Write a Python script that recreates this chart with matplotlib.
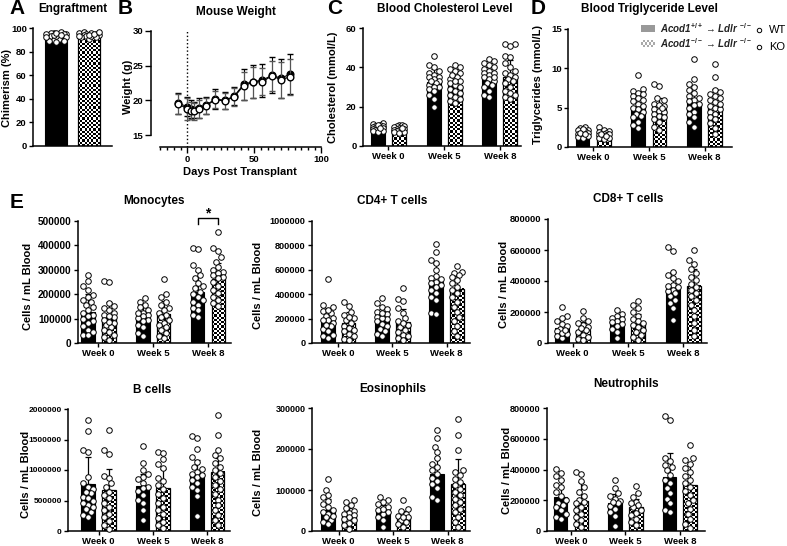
import numpy as np
import matplotlib
matplotlib.use('Agg')
import matplotlib.pyplot as plt
from matplotlib.colors import ListedColormap
from matplotlib.patches import Rectangle

plt.rcParams['font.family'] = ['Liberation Sans', 'DejaVu Sans']
plt.rcParams['font.weight'] = 'bold'
plt.rcParams['mathtext.fontset'] = 'custom'
plt.rcParams['mathtext.rm'] = 'Liberation Sans:bold'
plt.rcParams['mathtext.it'] = 'Liberation Sans:italic:bold'
plt.rcParams['mathtext.bf'] = 'Liberation Sans:bold'

W, H = 787, 546
K = 1000  # E panels are typed in thousands of cells / mL

weeks = ['Week 0', 'Week 5', 'Week 8']

# A - engraftment (%)
engraft_wt = [95, 96, 95, 94, 96, 97, 95, 93, 92, 90, 89, 91, 93, 94, 96, 95, 92, 89, 88, 94]
engraft_ko = [95, 96, 97, 95, 94, 93, 92, 94, 95, 96, 91, 93, 92, 94, 95, 97, 93]
engraft_mean = [93.0, 93.2]
engraft_sd = [2.4, 1.9]

# B - mouse weight (g)
weight_days = [-7, 0, 3, 5, 9, 14, 21, 28, 35, 42, 49, 56, 63, 70, 77]
weight_wt = [19.6, 19.1, 18.8, 18.6, 18.9, 19.3, 20.2, 20.0, 20.6, 22.3, 22.7, 22.9, 23.6, 23.2, 23.8]
weight_ko = [19.5, 18.8, 18.5, 18.4, 18.8, 19.2, 20.1, 19.9, 20.5, 22.1, 22.6, 22.7, 23.5, 23.0, 23.4]
weight_wt_sd = [1.5, 1.4, 1.3, 1.2, 1.4, 1.2, 1.4, 1.2, 1.3, 2.2, 2.4, 2.4, 2.6, 2.8, 2.9]
weight_ko_sd = [1.4, 1.6, 1.2, 1.2, 1.3, 1.2, 1.2, 1.1, 1.3, 2.0, 2.2, 2.0, 2.2, 2.6, 2.6]

# C - cholesterol (mmol/L)
chol_wt = [
    [11.5, 11.0, 10.5, 10.2, 10.0, 9.8, 9.5, 9.2, 9.0, 8.8, 8.5, 8.2, 8.0, 7.8, 7.5, 7.2, 10.8, 9.3],
    [46, 41, 40, 38, 37, 36, 35, 34, 33, 32, 31, 30, 30, 29, 28, 26, 24, 20, 35, 33],
    [44, 43, 42, 41, 40, 39, 38, 37, 36, 35, 34, 33, 32, 31, 30, 28, 26, 25, 37, 35],
]
chol_ko = [
    [10.8, 10.5, 10.2, 10.0, 9.6, 9.2, 8.8, 8.5, 8.2, 8.0, 7.8, 7.5, 7.2, 7.0, 6.5, 9.0],
    [41, 40, 39, 38, 37, 35, 34, 33, 32, 31, 30, 29, 28, 27, 26, 25, 24, 23, 22, 36, 33],
    [52, 52, 51, 46, 45, 42, 40, 38, 37, 36, 35, 34, 33, 32, 30, 28, 27, 26, 25, 24],
]
chol_wt_mean = [9.0, 32.5, 35.0]
chol_ko_mean = [8.5, 30.5, 35.0]
chol_wt_sd = [1.3, 6.5, 5.0]
chol_ko_sd = [1.2, 5.5, 8.5]

# D - triglycerides (mmol/L)
tg_wt = [
    [2.5, 2.4, 2.2, 2.1, 2.0, 1.9, 1.8, 1.7, 1.6, 1.5, 1.4, 1.3, 1.2, 2.3, 1.8, 1.6],
    [9.2, 7.4, 7.1, 6.9, 6.8, 6.5, 6.2, 6.0, 5.5, 5.2, 5.0, 4.8, 4.5, 4.2, 4.0, 3.8, 3.2, 2.8, 2.4, 5.8],
    [11.2, 8.6, 8.0, 7.6, 7.2, 6.9, 6.5, 6.2, 6.0, 5.8, 5.5, 5.0, 4.5, 4.2, 3.8, 3.2, 2.6, 5.3],
]
tg_ko = [
    [2.5, 2.2, 2.0, 1.9, 1.8, 1.7, 1.6, 1.5, 1.4, 1.3, 1.2, 1.1, 1.0, 1.6, 1.4],
    [8.0, 7.8, 6.2, 6.0, 5.5, 5.2, 5.0, 4.8, 4.6, 4.5, 4.2, 4.0, 3.8, 3.5, 3.2, 2.5, 2.2, 5.4, 4.9],
    [10.6, 8.9, 7.3, 7.0, 6.8, 6.5, 6.2, 6.0, 5.7, 5.2, 5.0, 4.8, 4.5, 4.2, 3.8, 3.5, 3.0, 2.4, 1.6, 5.5],
]
tg_wt_mean = [1.7, 5.1, 5.6]
tg_ko_mean = [1.5, 4.8, 5.2]
tg_wt_sd = [0.4, 1.9, 2.1]
tg_ko_sd = [0.4, 1.4, 2.2]

# E - monocytes
mono_wt = [
    [280, 256, 232, 218, 198, 190, 177, 166, 157, 147, 136, 125, 116, 109, 98, 89, 82, 71, 54, 34, 31, 44],
    [184, 170, 157, 147, 136, 125, 116, 109, 95, 89, 75, 65, 41, 27, 102, 123],
    [388, 384, 320, 300, 279, 266, 245, 225, 211, 202, 190, 177, 166, 157, 143, 134, 116, 106, 232],
]
mono_ko = [
    [256, 252, 163, 150, 143, 134, 125, 116, 106, 95, 84, 75, 65, 54, 44, 34, 25, 14, 88, 109],
    [262, 202, 190, 170, 157, 143, 136, 125, 116, 106, 95, 84, 75, 65, 54, 41, 27, 20],
    [456, 388, 379, 354, 334, 313, 300, 293, 279, 270, 252, 232, 218, 204, 190, 177, 163, 150, 286, 266],
]
mono_wt_mean = [127, 103, 210]
mono_ko_mean = [103, 118, 262]
mono_wt_sd = [75, 45, 85]
mono_ko_sd = [65, 55, 65]

# E - CD4+ T cells
cd4_wt = [
    [522, 312, 293, 266, 245, 223, 204, 185, 163, 136, 114, 95, 68, 54, 41, 272, 190, 150],
    [367, 326, 299, 277, 258, 239, 217, 196, 177, 158, 136, 114, 95, 76, 54, 204, 245],
    [810, 747, 679, 652, 598, 549, 535, 522, 503, 476, 435, 408, 375, 353, 250, 239, 489, 462],
]
cd4_ko = [
    [340, 304, 258, 231, 204, 185, 163, 141, 122, 95, 76, 54, 33, 22, 217, 109],
    [448, 359, 345, 285, 245, 204, 177, 150, 130, 109, 87, 68, 54, 38, 22, 163],
    [630, 584, 571, 557, 538, 516, 489, 462, 435, 408, 375, 340, 299, 258, 217, 177, 136, 95, 54],
]
cd4_wt_mean = [177, 190, 500]
cd4_ko_mean = [160, 171, 443]
cd4_wt_sd = [110, 90, 150]
cd4_ko_sd = [95, 110, 110]

# E - CD8+ T cells
cd8_wt = [
    [232, 172, 161, 140, 125, 108, 90, 75, 60, 43, 32, 65, 86],
    [211, 189, 172, 155, 140, 125, 108, 90, 69, 32, 161, 133],
    [619, 591, 456, 441, 419, 398, 376, 361, 344, 323, 301, 280, 258, 226, 146, 333, 366],
]
cd8_ko = [
    [204, 161, 140, 118, 103, 86, 69, 54, 39, 26, 17, 97, 129],
    [269, 247, 226, 198, 176, 155, 140, 118, 103, 86, 69, 54, 39, 22, 129],
    [602, 533, 512, 477, 452, 426, 404, 383, 361, 344, 323, 301, 275, 247, 215, 172, 129, 86, 43],
]
cd8_wt_mean = [97, 123, 348]
cd8_ko_mean = [86, 125, 370]
cd8_wt_sd = [55, 45, 110]
cd8_ko_sd = [50, 65, 110]

# E - B cells
bcell_wt = [
    [1824, 1632, 1330, 1302, 890, 780, 725, 681, 615, 560, 495, 423, 368, 313, 258, 231, 643, 533, 462, 396],
    [1396, 1110, 1000, 934, 890, 846, 791, 725, 659, 588, 516, 451, 341, 187, 698],
    [1560, 1522, 1341, 1209, 1137, 1055, 1011, 973, 934, 890, 835, 780, 725, 571, 242, 918, 670],
]
bcell_ko = [
    [1648, 1330, 1264, 901, 863, 780, 725, 643, 588, 533, 462, 396, 341, 275, 231, 165, 93, 38],
    [1302, 1286, 1176, 1099, 1027, 863, 824, 753, 681, 604, 533, 462, 396, 341, 275, 220, 148, 93, 55],
    [1907, 1577, 1330, 1247, 1192, 1121, 1055, 1000, 945, 890, 824, 753, 681, 604, 516, 423, 341, 258, 176, 93],
]
bcell_wt_mean = [769, 736, 956]
bcell_ko_mean = [670, 698, 973]
bcell_wt_sd = [440, 200, 200]
bcell_ko_sd = [352, 313, 220]

# E - eosinophils
eos_wt = [
    [128, 101, 89, 83, 73, 67, 59, 52, 46, 41, 34, 28, 22, 16, 37],
    [83, 76, 71, 65, 59, 52, 46, 41, 34, 26, 10, 54],
    [247, 228, 205, 193, 179, 164, 156, 148, 140, 130, 122, 115, 106, 83, 76],
]
eos_ko = [
    [75, 71, 63, 57, 50, 44, 38, 33, 26, 20, 14, 6, 42, 29],
    [75, 54, 49, 42, 37, 33, 28, 22, 16, 10, 34],
    [274, 233, 198, 148, 144, 136, 128, 120, 111, 103, 95, 87, 79, 71, 63, 54, 46, 34, 22, 10],
]
eos_wt_mean = [52, 49, 138]
eos_ko_mean = [38, 36, 115]
eos_wt_sd = [27, 15, 41]
eos_ko_sd = [19, 12, 60]

# E - neutrophils
neut_wt = [
    [401, 379, 357, 331, 298, 283, 255, 227, 200, 179, 157, 135, 109, 92, 81, 168],
    [331, 277, 244, 227, 211, 196, 179, 161, 146, 124, 96, 31, 190],
    [749, 719, 473, 458, 429, 418, 397, 364, 331, 309, 277, 244, 211, 179, 135, 124],
]
neut_ko = [
    [386, 370, 327, 283, 255, 227, 200, 179, 157, 135, 113, 92, 70, 48, 26, 190],
    [292, 248, 222, 190, 168, 153, 135, 118, 102, 81, 59, 37, 179],
    [560, 473, 462, 436, 407, 386, 357, 331, 309, 288, 261, 233, 200, 179, 146, 113, 81, 48, 22],
]
neut_wt_mean = [222, 183, 349]
neut_ko_mean = [194, 153, 298]
neut_wt_sd = [109, 60, 156]
neut_ko_sd = [122, 55, 138]

checker_cmap = ListedColormap(['white', 'black'])


def fx(x):
    return x / W


def fy(y):
    return 1 - y / H


def px_axes(fig, l, t, r, b):
    return fig.add_axes([l / W, 1 - b / H, (r - l) / W, (b - t) / H])


def style(ax, fs=6.8):
    for s in ['top', 'right']:
        ax.spines[s].set_visible(False)
    for s in ['left', 'bottom']:
        ax.spines[s].set_linewidth(1.1)
    ax.tick_params(direction='out', length=3, width=1.0, labelsize=6.8, pad=1.5)
    ax.tick_params(axis='y', labelsize=fs)


def swarm(vals, xc, sx, sy, max_off, diam=5.5):
    # simple beeswarm in pixel space so circles don't pile on each other
    vals = np.asarray(vals, dtype=float)
    steps = [0.0]
    k = 1
    while k * 2.5 <= max_off:
        steps += [-k * 2.5, k * 2.5]
        k += 1
    placed = []
    xs = np.zeros(len(vals))
    for idx in np.argsort(vals):
        y = vals[idx] * sy
        best, best_d = 0.0, -1
        for o in steps:
            d = min([np.hypot(o - px, y - py) for px, py in placed] or [99])
            if d >= diam:
                best = o
                break
            if d > best_d:
                best, best_d = o, d
        placed.append((best, y))
        xs[idx] = xc + best / sx
    return xs


def checker(ax, x0, width, height, sx, sy, cell=2.2, cmap=checker_cmap):
    ncol = max(2, int(round(width * sx / cell)))
    nrow = max(1, int(round(height * sy / cell)))
    grid = np.indices((nrow, ncol)).sum(axis=0) % 2
    ax.imshow(grid, cmap=cmap, extent=(x0, x0 + width, 0, height), aspect='auto',
              interpolation='nearest', zorder=1)


def draw_pair(ax, xw, xk, wm, km, wsd, ksd, wvals, kvals, width, sx, sy, max_off):
    ax.bar(xw, wm, width, color='black', edgecolor='black', linewidth=0.8, zorder=1)
    checker(ax, xk - width / 2, width, km, sx, sy)
    ax.bar(xk, km, width, fill=False, edgecolor='black', linewidth=0.9, zorder=2)
    ax.errorbar([xw, xk], [wm, km], yerr=[[0, 0], [wsd, ksd]], fmt='none', ecolor='black',
                elinewidth=0.9, capsize=2.2, capthick=0.9, zorder=2.5)
    for x, v in [(xw, wvals), (xk, kvals)]:
        v = np.asarray(v, dtype=float)
        ax.scatter(swarm(v, x, sx, sy, max_off), v, s=16, facecolor='white',
                   edgecolor='black', linewidth=0.7, zorder=3, clip_on=False)


def bar_panel(fig, box, xlim, ylim, yticks, wt, ko, wt_mean, ko_mean, wt_sd, ko_sd,
              scale=1, fs=6.8, off=0.19, width=0.25):
    l, t, r, b = box
    ax = px_axes(fig, l, t, r, b)
    style(ax, fs)
    sx = (r - l) / (xlim[1] - xlim[0])
    sy = (b - t) / (ylim[1] - ylim[0])
    for i in range(3):
        draw_pair(ax, i - off, i + off, wt_mean[i] * scale, ko_mean[i] * scale,
                  wt_sd[i] * scale, ko_sd[i] * scale,
                  np.asarray(wt[i]) * scale, np.asarray(ko[i]) * scale, width, sx, sy, 7)
    ax.set_xlim(xlim)
    ax.set_ylim(ylim)
    ax.set_yticks(yticks)
    ax.set_yticklabels([str(int(v)) for v in yticks])
    ax.set_xticks([0, 1, 2])
    ax.set_xticklabels(weeks)
    return ax


def main():
    fig = plt.figure(figsize=(W / 100, H / 100), dpi=100)
    fig.patch.set_facecolor('white')

    def label(x, y, s, size=8, **kw):
        fig.text(fx(x), fy(y), s, ha='center', va='center', fontsize=size, fontweight='bold', **kw)

    # A
    l, t, r, b = 33, 28, 112, 146
    ax = px_axes(fig, l, t, r, b)
    style(ax)
    xlim, ylim = (-0.7, 1.7), (0, 100)
    sx, sy = (r - l) / (xlim[1] - xlim[0]), (b - t) / (ylim[1] - ylim[0])
    draw_pair(ax, 0, 1, engraft_mean[0], engraft_mean[1], engraft_sd[0], engraft_sd[1],
              engraft_wt, engraft_ko, 0.667, sx, sy, 10)
    ax.set_xlim(xlim)
    ax.set_ylim(ylim)
    ax.set_xticks([])
    ax.set_yticks([0, 20, 40, 60, 80, 100])

    # B
    ax = px_axes(fig, 151, 31, 322, 147)
    style(ax)
    ax.errorbar(weight_days, weight_wt, yerr=weight_wt_sd, fmt='-o', color='black', mfc='black',
                mec='black', ms=4.8, lw=0.8, elinewidth=0.8, capsize=2.2, zorder=3)
    ax.errorbar(weight_days, weight_ko, yerr=weight_ko_sd, fmt='-o', color='black', ecolor='#555555',
                mfc='white', mec='black', ms=4.8, lw=0.8, elinewidth=0.8, capsize=2.2, zorder=4)
    ax.plot([0, 0], [13.27, 30], ls=':', color='black', lw=1.0, zorder=1)
    ax.set_xlim(-27, 100.5)
    ax.set_ylim(13.27, 30)
    ax.spines['left'].set_bounds(15, 30)
    ax.spines['bottom'].set_bounds(-20, 100)
    ax.set_yticks([15, 20, 25, 30])
    ax.set_xticks([0, 50, 100])
    ax.set_xticks(np.arange(-20, 101, 5), minor=True)
    ax.tick_params(which='minor', length=2.5, width=1.0)
    ax.tick_params(which='major', length=4)

    # C
    bar_panel(fig, (363, 28, 521, 146), (-0.457, 2.38), (0, 60), [0, 20, 40, 60],
              chol_wt, chol_ko, chol_wt_mean, chol_ko_mean, chol_wt_sd, chol_ko_sd)
    # D
    bar_panel(fig, (568, 29, 732, 147), (-0.45, 2.49), (0, 15), [0, 5, 10, 15],
              tg_wt, tg_ko, tg_wt_mean, tg_ko_mean, tg_wt_sd, tg_ko_sd)

    # E
    ax = bar_panel(fig, (78, 221, 231, 343), (-0.374, 2.42), (0, 500000),
                   np.arange(0, 500001, 100000), mono_wt, mono_ko, mono_wt_mean, mono_ko_mean,
                   mono_wt_sd, mono_ko_sd, scale=K, fs=7.2)
    ax.plot([2 - 0.19, 2 - 0.19, 2 + 0.19, 2 + 0.19], [488000, 514000, 514000, 488000],
            color='black', lw=1.0, clip_on=False)
    ax.text(2, 530000, '*', ha='center', va='center', fontsize=10, fontweight='bold')
    bar_panel(fig, (312, 221, 470, 343), (-0.49, 2.435), (0, 1000000),
              np.arange(0, 1000001, 200000), cd4_wt, cd4_ko, cd4_wt_mean, cd4_ko_mean,
              cd4_wt_sd, cd4_ko_sd, scale=K, fs=6.6)
    bar_panel(fig, (548, 219, 707, 343), (-0.443, 2.43), (0, 800000),
              np.arange(0, 800001, 200000), cd8_wt, cd8_ko, cd8_wt_mean, cd8_ko_mean,
              cd8_wt_sd, cd8_ko_sd, scale=K, fs=6.8)
    bar_panel(fig, (68, 409, 230, 531), (-0.562, 2.42), (0, 2000000),
              np.arange(0, 2000001, 500000), bcell_wt, bcell_ko, bcell_wt_mean, bcell_ko_mean,
              bcell_wt_sd, bcell_ko_sd, scale=K, fs=6.0)
    bar_panel(fig, (312, 408, 470, 531), (-0.486, 2.41), (0, 300000),
              np.arange(0, 300001, 100000), eos_wt, eos_ko, eos_wt_mean, eos_ko_mean,
              eos_wt_sd, eos_ko_sd, scale=K, fs=6.5)
    bar_panel(fig, (547, 408, 705, 531), (-0.44, 2.46), (0, 800000),
              np.arange(0, 800001, 200000), neut_wt, neut_ko, neut_wt_mean, neut_ko_mean,
              neut_wt_sd, neut_ko_sd, scale=K, fs=6.6)

    # panel letters
    for s, x, y in [('A', 17, 8), ('B', 125, 8), ('C', 335, 8), ('D', 538, 8), ('E', 17, 202)]:
        label(x, y, s, size=15)

    # titles
    for s, x, y in [('Engraftment', 73, 9), ('Mouse Weight', 236, 12),
                    ('Blood Cholesterol Level', 445, 9), ('Blood Triglyceride Level', 649, 9),
                    ('Monocytes', 154, 201), ('CD4+ T cells', 392, 201), ('CD8+ T cells', 628, 199),
                    ('B cells', 152, 390), ('Eosinophils', 393, 389), ('Neutrophils', 626, 384)]:
        label(x, y, s, size=8.5)

    # axis labels
    for s, x, y in [('Chimerism (%)', 7, 88), ('Weight (g)', 128, 87),
                    ('Cholesterol (mmol/L)', 333, 87), ('Triglycerides (mmol/L)', 538, 84),
                    ('Cells / mL Blood', 28, 286), ('Cells / mL Blood', 258, 285),
                    ('Cells / mL Blood', 504, 284), ('Cells / mL Blood', 26, 474),
                    ('Cells / mL Blood', 258, 472), ('Cells / mL Blood', 507, 470)]:
        label(x, y, s, size=8, rotation=90)
    label(240, 172, 'Days Post Transplant', size=8)

    # legend (D)
    fig.patches.append(Rectangle((fx(641), fy(32)), 14 / W, 7 / H, transform=fig.transFigure,
                                 facecolor='#999999', edgecolor='none'))
    sw = px_axes(fig, 641, 40, 655, 47)
    sw.imshow(np.indices((3, 7)).sum(axis=0) % 2, cmap=ListedColormap(['white', '#aaaaaa']),
              aspect='auto', interpolation='nearest')
    sw.set_axis_off()
    for s, y in [(r'Acod1$^{+/+}$ → Ldlr $^{-/-}$', 28.5), (r'Acod1$^{-/-}$ → Ldlr $^{-/-}$', 43.5)]:
        fig.text(fx(660), fy(y), s, fontsize=7, style='italic', fontweight='bold',
                 va='center', ha='left', color='#222222')
    for s, y in [('WT', 30), ('KO', 47)]:
        fig.lines.append(plt.Line2D([fx(759)], [fy(y)], marker='o', ms=3.2, mfc='white',
                                    mec='black', mew=0.7, transform=fig.transFigure))
        fig.text(fx(769), fy(y), s, fontsize=8, fontweight='normal', va='center', ha='left')

    fig.savefig('out.png', dpi=100)


if __name__ == '__main__':
    main()
